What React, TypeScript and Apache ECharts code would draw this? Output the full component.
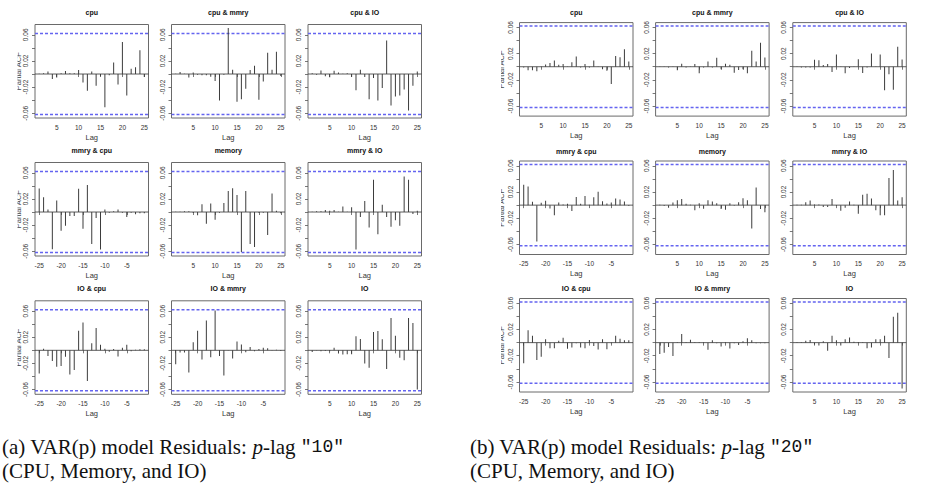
import React, { useEffect, useRef } from "react";
import * as echarts from "echarts";

// ---------------- data ----------------
const LAGS_POS = [1, 2, 3, 4, 5, 6, 7, 8, 9, 10, 11, 12, 13, 14, 15, 16, 17, 18, 19, 20, 21, 22, 23, 24, 25];
const LAGS_NEG = [-25, -24, -23, -22, -21, -20, -19, -18, -17, -16, -15, -14, -13, -12, -11, -10, -9, -8, -7, -6, -5, -4, -3, -2, -1];
const X_TICKS_POS = [5, 10, 15, 20, 25];
const X_TICKS_NEG = [-25, -20, -15, -10, -5];
const Y_TICKS = [-0.06, -0.04, -0.02, 0, 0.02, 0.04, 0.06];
const Y_LABELS = [-0.06, -0.02, 0.02, 0.06];
const CLIM = 0.062;

const TITLES = ["cpu", "cpu & mmry", "cpu & IO", "mmry & cpu", "memory", "mmry & IO", "IO & cpu", "IO & mmry", "IO"];

// Figure (a): p-lag 10
const A_cpu = [0.0005, 0.001, 0.004, -0.0075, -0.0055, 0.001, 0.0045, 0.001, 0.001, 0.006, -0.013, -0.0255, 0.004, -0.018, -0.0035, -0.051, -0.002, 0.0175, -0.016, 0.049, -0.033, 0.008, 0.0105, 0.0365, -0.0045];
const A_cpuMmry = [0.0005, 0.003, 0.0005, -0.0055, 0.0025, -0.001, -0.002, -0.002, -0.004, -0.0105, -0.0405, -0.001, 0.0705, 0.0065, -0.0425, -0.0385, -0.0225, 0.006, 0.0125, -0.0395, -0.0115, 0.0325, 0.0065, 0.034, -0.003];
const A_cpuIO = [0.001, -0.001, 0.0055, -0.0035, -0.005, 0.005, 0.0025, 0.0005, 0.001, -0.0045, -0.025, 0.0065, -0.0045, -0.0385, -0.006, -0.0405, -0.0215, 0.0515, -0.048, -0.0345, -0.033, -0.0235, -0.056, -0.018, 0.004];
const A_mmryCpu = [0.036, 0.0225, 0.004, -0.057, 0.0175, -0.0285, -0.021, -0.006, -0.006, 0.0355, -0.0255, 0.0415, -0.049, -0.009, -0.0575, 0.004, -0.001, 0.001, 0.004, -0.001, -0.0075, -0.001, -0.0035, -0.002, -0.002];
const A_memory = [0.0005, 0.0005, 0.001, 0.001, -0.0015, -0.005, 0.012, -0.018, 0.013, -0.012, -0.001, 0.014, 0.032, 0.0365, 0.026, -0.061, 0.032, -0.049, -0.0535, -0.001, -0.001, -0.035, 0.0285, 0.002, -0.002];
const A_mmryIO = [0.0005, 0.001, 0.001, 0.003, 0.002, 0.003, 0.0005, 0.0085, 0.0005, 0.0075, -0.0575, -0.0075, 0.017, -0.0235, 0.0495, -0.034, 0.011, -0.0075, -0.0225, -0.0125, -0.021, 0.0545, 0.0495, -0.003, 0.002];
const A_ioCpu = [-0.0355, 0.0025, -0.0085, -0.0165, -0.025, -0.024, -0.01, -0.037, -0.03, 0.03, 0.0425, -0.047, 0.011, 0.034, 0.0085, 0.0025, -0.002, 0.002, -0.0095, 0.004, 0.0085, -0.0015, 0.001, 0.0015, 0.0015];
const A_ioMmry = [-0.0215, -0.0035, -0.0035, -0.034, 0.0125, 0.03, -0.014, 0.0455, -0.0105, 0.061, -0.0085, -0.0385, 0.0005, -0.0125, 0.0135, 0.009, -0.003, 0.005, -0.0015, 0.002, 0.004, 0.003, 0.0005, 0.001, -0.001];
const A_io = [-0.0025, 0.0005, -0.0015, -0.001, -0.0015, 0.004, -0.005, -0.0065, -0.006, -0.006, 0.0215, 0.0175, -0.02, -0.0265, 0.028, 0.0295, 0.017, -0.0285, 0.0495, 0.0225, -0.0115, -0.015, 0.0495, 0.042, -0.06];

// Figure (b): p-lag 20
const B_cpu = [-0.001, -0.0055, -0.0055, -0.007, 0.0005, 0.0035, 0.0055, 0.0095, 0.003, 0.004, 0.0005, 0.007, 0.0155, -0.001, 0.004, -0.001, 0.0095, 0.0005, -0.004, -0.006, -0.0265, 0.0165, 0.0145, 0.0265, 0.008];
const B_cpuMmry = [0.0005, 0.0005, -0.001, 0.0005, -0.0055, 0.0045, -0.001, 0.0005, 0.004, -0.01, -0.001, 0.008, -0.001, 0.0135, -0.004, 0.0045, 0.003, -0.009, -0.005, -0.004, -0.01, 0.0245, 0.008, 0.0365, 0.014];
const B_cpuIO = [0.0005, -0.001, -0.001, -0.001, 0.0105, 0.01, 0.0025, 0.004, -0.008, 0.0185, 0.0005, -0.01, -0.002, 0.0005, 0.0115, -0.0095, -0.001, 0.02, 0.0005, 0.0185, -0.036, -0.0115, -0.035, 0.0305, 0.011];
const B_mmryCpu = [0.031, 0.0285, 0.005, -0.0555, 0.0035, 0.0065, -0.005, -0.0155, 0.004, 0.001, 0.002, -0.009, 0.0125, 0.002, 0.014, 0.0005, 0.012, 0.0205, 0.006, 0.0025, 0.004, 0.01, 0.0085, 0.0055, -0.0015];
const B_memory = [0.0005, -0.0015, -0.004, 0.004, 0.0075, 0.0095, 0.002, 0.0005, -0.008, 0.003, -0.0055, 0.0075, 0.0055, 0.003, -0.006, -0.007, 0.003, -0.001, 0.0045, 0.0105, 0.0075, -0.0355, 0.027, -0.006, -0.011];
const B_mmryIO = [0.0005, 0.0005, 0.0045, 0.007, 0.001, 0.001, -0.003, -0.003, 0.0095, -0.001, -0.0085, -0.004, 0.0055, 0.0005, -0.013, 0.016, 0.0175, 0.01, -0.008, -0.0155, -0.0155, 0.0415, 0.0535, 0.007, 0.012];
const B_ioCpu = [-0.0315, 0.019, 0.0105, -0.0265, -0.0215, 0.005, -0.0085, -0.0085, 0.003, 0.0075, -0.0095, -0.0075, -0.001, -0.0075, -0.0085, 0.004, -0.005, -0.0105, 0.005, -0.01, -0.001, 0.0105, 0.006, 0.0035, 0.0035];
const B_ioMmry = [-0.0175, -0.0155, -0.0065, -0.0205, 0.0005, 0.013, 0.0005, 0.0045, 0.0005, 0.0005, 0.0005, -0.011, 0.0035, -0.001, -0.006, 0.0005, -0.009, -0.001, -0.0035, 0.002, 0.0065, 0.0035, -0.001, -0.001, -0.001];
const B_io = [0.0005, 0.0005, 0.003, 0.004, -0.003, -0.0045, 0.002, -0.0125, 0.0105, 0.0035, -0.0045, 0.005, 0.008, 0.0015, 0.001, 0.0005, -0.0085, -0.0075, 0.005, 0.005, 0.0105, -0.0235, 0.0395, 0.0455, -0.07];

const FIG_A = [A_cpu, A_cpuMmry, A_cpuIO, A_mmryCpu, A_memory, A_mmryIO, A_ioCpu, A_ioMmry, A_io];
const FIG_B = [B_cpu, B_cpuMmry, B_cpuIO, B_mmryCpu, B_memory, B_mmryIO, B_ioCpu, B_ioMmry, B_io];

// ---------------- layout ----------------
const FIGS = [
  { data: FIG_A, lefts: [35, 171.5, 308], tops: [24.5, 162.5, 300.8], titleGap: 12, ylabX: 18, clipX: 17.5, clipFrom: 0, capX: 2, cap: "10", capLabel: "(a)" },
  { data: FIG_B, lefts: [519.5, 655.6, 792.8], tops: [22.6, 161, 298.5], titleGap: 10, ylabX: 501.5, clipX: 501, clipFrom: 470, capX: 470, cap: "20", capLabel: "(b)" },
];
const BOX_W = 113.5;
const BOX_H = 93.5;
const SANS = "Liberation Sans, Arial, sans-serif";
const SERIF = "Liberation Serif, serif";
const MONO = "Liberation Mono, monospace";
const CI_COLOR = "#6464f0";

function isNegPanel(k: number) {
  return k === 3 || k === 6 || k === 7;
}

function buildOption() {
  const grids: any[] = [];
  const xAxes: any[] = [];
  const yAxes: any[] = [];
  const series: any[] = [];
  const elements: any[] = [];
  let gi = 0;
  FIGS.forEach((fig) => {
    const all: number[] = [];
    fig.data.forEach((arr) => arr.forEach((v) => all.push(v)));
    const lo = Math.min(-CLIM, ...all);
    const hi = Math.max(CLIM, ...all);
    const ext = (hi - lo) * 0.04;
    const ymin = lo - ext;
    const ymax = hi + ext;
    fig.data.forEach((vals, k) => {
      const row = Math.floor(k / 3);
      const col = k % 3;
      const left = fig.lefts[col];
      const top = fig.tops[row];
      const neg = isNegPanel(k);
      const lags = neg ? LAGS_NEG : LAGS_POS;
      const xext = (lags[lags.length - 1] - lags[0]) * 0.04;
      const xmin = lags[0] - xext;
      const xmax = lags[lags.length - 1] + xext;
      grids.push({ left, top, width: BOX_W, height: BOX_H, show: true, borderColor: "#6a6a6a", borderWidth: 1, backgroundColor: "transparent", containLabel: false });
      const xt = neg ? X_TICKS_NEG : X_TICKS_POS;
      xAxes.push({
        type: "value", gridIndex: gi, min: xmin, max: xmax,
        axisLine: { show: false }, splitLine: { show: false },
        axisTick: { show: true, length: 3, customValues: xt, lineStyle: { color: "#555", width: 0.8 } },
        axisLabel: { show: true, customValues: xt, fontSize: 6.5, color: "#333", margin: 5.5, fontFamily: SANS },
      });
      yAxes.push({
        type: "value", gridIndex: gi, min: ymin, max: ymax,
        axisLine: { show: false }, splitLine: { show: false },
        axisTick: { show: true, length: 3, customValues: Y_TICKS, lineStyle: { color: "#555", width: 0.8 } },
        axisLabel: {
          show: true, customValues: Y_LABELS, rotate: 90, align: "center", verticalAlign: "bottom",
          fontSize: 6.5, color: "#333", margin: 6, fontFamily: SANS, formatter: (v: number) => v.toFixed(2),
        },
      });
      [CLIM, -CLIM].forEach((c) => {
        series.push({
          type: "line", xAxisIndex: gi, yAxisIndex: gi, silent: true, symbol: "none", z: 3,
          lineStyle: { color: CI_COLOR, type: [3, 2], width: 1.5 },
          data: [[xmin, c], [xmax, c]],
        });
      });
      series.push({
        type: "line", xAxisIndex: gi, yAxisIndex: gi, silent: true, symbol: "none", z: 3,
        lineStyle: { color: "#333", type: "solid", width: 0.8 },
        data: [[xmin, 0], [xmax, 0]],
      });
      series.push({
        type: "bar", xAxisIndex: gi, yAxisIndex: gi, barWidth: 1, silent: true, z: 4,
        itemStyle: { color: "#3c3c3c" },
        data: lags.map((l, j) => [l, vals[j]]),
      });
      elements.push({
        type: "text", x: left + BOX_W / 2, y: top - fig.titleGap, z: 10,
        style: { text: TITLES[k], font: `bold 7px ${SANS}`, fill: "#111", align: "center", verticalAlign: "middle" },
      });
      elements.push({
        type: "text", x: left + BOX_W / 2, y: top + BOX_H + 19, z: 10,
        style: { text: "Lag", font: `7.5px ${SANS}`, fill: "#333", align: "center", verticalAlign: "middle" },
      });
      if (col === 0) {
        elements.push({
          type: "text", x: fig.ylabX, y: top + BOX_H / 2, rotation: Math.PI / 2, z: 10,
          style: { text: "Partial ACF", font: `7.5px ${SANS}`, fill: "#444", align: "center", verticalAlign: "middle" },
        });
      }
      gi++;
    });
    elements.push({
      type: "rect", z: 20, shape: { x: fig.clipFrom, y: 0, width: fig.clipX - fig.clipFrom, height: 420 },
      style: { fill: "#fff" },
    });
    const rich = {
      n: { fontFamily: SERIF, fontSize: 21, fill: "#111" },
      i: { fontFamily: SERIF, fontSize: 21, fontStyle: "italic", fill: "#111" },
      m: { fontFamily: MONO, fontSize: 18, fill: "#111" },
    };
    elements.push({
      type: "text", x: fig.capX, y: 447, z: 10,
      style: { text: `{n|${fig.capLabel} VAR(p) model Residuals: }{i|p}{n|-lag }{m|"${fig.cap}"}`, rich, verticalAlign: "middle", align: "left" },
    });
    elements.push({
      type: "text", x: fig.capX, y: 471, z: 10,
      style: { text: "{n|(CPU, Memory, and IO)}", rich, verticalAlign: "middle", align: "left" },
    });
  });
  return { animation: false, grid: grids, xAxis: xAxes, yAxis: yAxes, series, graphic: { elements } };
}

export default function App() {
  const ref = useRef<HTMLDivElement>(null);
  useEffect(() => {
    document.body.style.margin = "0";
    if (!ref.current) return;
    const chart = echarts.init(ref.current, undefined, { renderer: "svg" });
    chart.setOption(buildOption() as any);
    return () => chart.dispose();
  }, []);
  return <div ref={ref} style={{ width: 929, height: 495, background: "#fff" }} />;
}
